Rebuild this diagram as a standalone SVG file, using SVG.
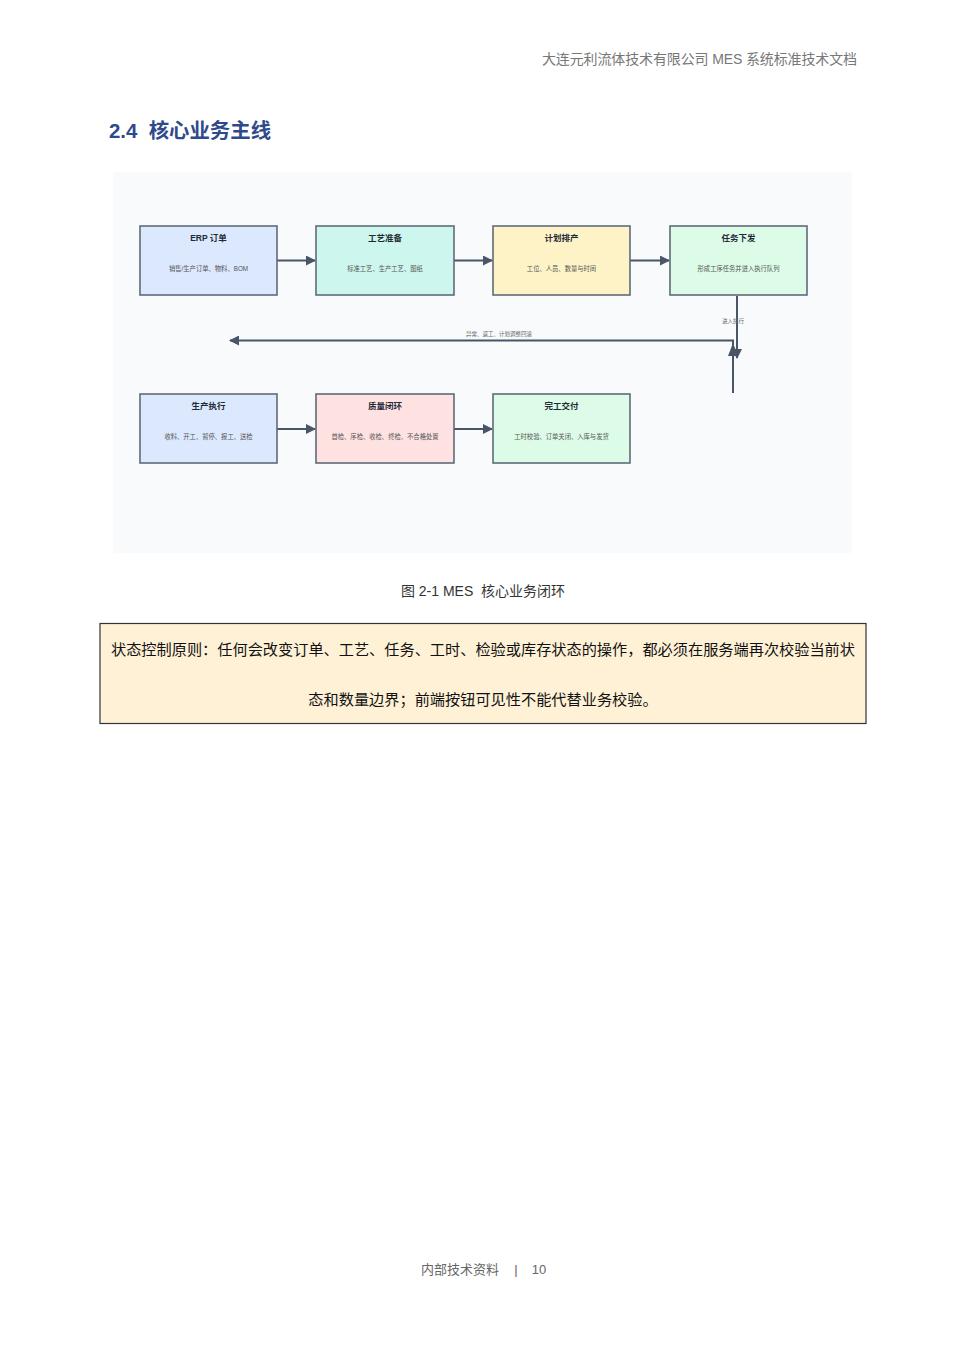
<svg xmlns="http://www.w3.org/2000/svg" width="953" height="1348" viewBox="0 0 953 1348">
<style>
text{font-family:"Liberation Sans","Noto Sans CJK SC",sans-serif;white-space:pre}
.box{stroke:#5f6b78;stroke-width:1.6}
.t{font-size:8.5px;font-weight:bold;fill:#1f2937;text-anchor:middle}
.s{font-size:6.3px;fill:#555;text-anchor:middle}
.ln{stroke:#4a5568;stroke-width:2;fill:none}
.lbl{font-size:5.5px;fill:#666;text-anchor:middle}
</style>
<defs>
<marker id="ah" markerWidth="10" markerHeight="10" refX="9" refY="5" orient="auto" markerUnits="userSpaceOnUse"><path d="M0,0 L10,5 L0,10 Z" fill="#4a5568"/></marker>
</defs>
<rect width="953" height="1348" fill="#fff"/>
<text x="857" y="64" font-size="14" fill="#777" text-anchor="end" textLength="315" lengthAdjust="spacing" xml:space="preserve">大连元利流体技术有限公司 MES 系统标准技术文档</text>
<text x="109" y="138" font-size="20.4" font-weight="bold" fill="#2e4a8b" xml:space="preserve">2.4  核心业务主线</text>
<rect x="113" y="172" width="739" height="381" fill="#f8fafc"/>
<g id="connectors">
<line class="ln" x1="277" y1="260.5" x2="315" y2="260.5" marker-end="url(#ah)"/>
<line class="ln" x1="454" y1="260.5" x2="492" y2="260.5" marker-end="url(#ah)"/>
<line class="ln" x1="630" y1="260.5" x2="669" y2="260.5" marker-end="url(#ah)"/>
<line class="ln" x1="737" y1="296" x2="737" y2="358" marker-end="url(#ah)"/>
<text class="lbl" x="733" y="323">进入执行</text>
<polyline class="ln" points="733,393 733,340.5 230,340.5" marker-end="url(#ah)"/>
<path d="M733,343 L728,356 L738,356 Z" fill="#4a5568"/>
<text class="lbl" x="499" y="336">异常、返工、计划调整回滚</text>
<line class="ln" x1="277" y1="429" x2="315" y2="429" marker-end="url(#ah)"/>
<line class="ln" x1="454" y1="429" x2="492" y2="429" marker-end="url(#ah)"/>
</g>
<g id="n1"><rect class="box" x="140" y="226" width="137" height="69" fill="#dbe8fd"/><text class="t" x="208.5" y="241">ERP 订单</text><text class="s" x="208.5" y="271">销售/生产订单、物料、BOM</text></g>
<g id="n2"><rect class="box" x="316" y="226" width="138" height="69" fill="#cdf7ee"/><text class="t" x="385" y="241">工艺准备</text><text class="s" x="385" y="271">标准工艺、生产工艺、图纸</text></g>
<g id="n3"><rect class="box" x="493" y="226" width="137" height="69" fill="#fef3c7"/><text class="t" x="561.5" y="241">计划排产</text><text class="s" x="561.5" y="271">工位、人员、数量与时间</text></g>
<g id="n4"><rect class="box" x="670" y="226" width="137" height="69" fill="#dcfce7"/><text class="t" x="738.5" y="241">任务下发</text><text class="s" x="738.5" y="271">形成工序任务并进入执行队列</text></g>
<g id="n5"><rect class="box" x="140" y="394" width="137" height="69" fill="#dbe8fd"/><text class="t" x="208.5" y="409">生产执行</text><text class="s" x="208.5" y="439">收料、开工、暂停、报工、送检</text></g>
<g id="n6"><rect class="box" x="316" y="394" width="138" height="69" fill="#fee2e2"/><text class="t" x="385" y="409">质量闭环</text><text class="s" x="385" y="439">首检、序检、收检、终检、不合格处置</text></g>
<g id="n7"><rect class="box" x="493" y="394" width="137" height="69" fill="#dcfce7"/><text class="t" x="561.5" y="409">完工交付</text><text class="s" x="561.5" y="439">工时校验、订单关闭、入库与发货</text></g>
<text x="483" y="596" font-size="14" fill="#333" text-anchor="middle" xml:space="preserve">图 2-1 MES  核心业务闭环</text>
<rect x="100" y="623.5" width="766" height="100" fill="#fff1d6" stroke="#333" stroke-width="1.2"/>
<text x="111" y="655" font-size="15" fill="#111" textLength="744" lengthAdjust="spacingAndGlyphs">状态控制原则：任何会改变订单、工艺、任务、工时、检验或库存状态的操作，都必须在服务端再次校验当前状</text>
<text x="483" y="705" font-size="15.2" fill="#111" text-anchor="middle">态和数量边界；前端按钮可见性不能代替业务校验。</text>
<text x="460" y="1274" font-size="13" fill="#666" text-anchor="middle">内部技术资料</text>
<text x="516" y="1274" font-size="13" fill="#666" text-anchor="middle">|</text>
<text x="539" y="1274" font-size="13" fill="#666" text-anchor="middle">10</text>
</svg>
